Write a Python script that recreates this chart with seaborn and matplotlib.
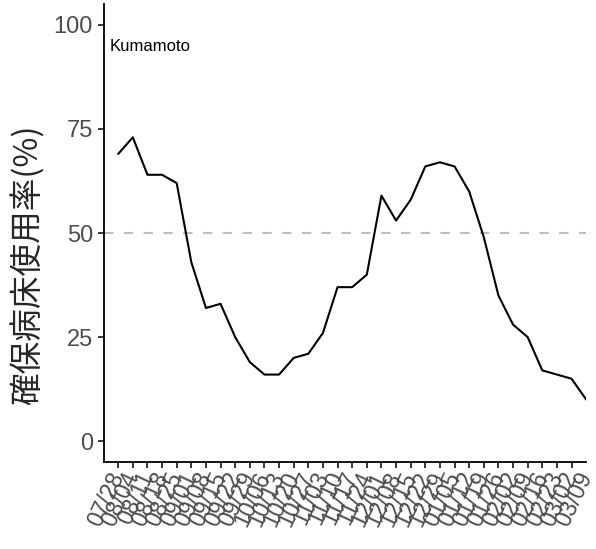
import numpy as np
import pandas as pd
import seaborn as sns
import matplotlib.pyplot as plt

# weekly dates and bed occupancy (%) for Kumamoto
dates = ["07/28", "08/04", "08/11", "08/18", "08/25", "09/01", "09/08", "09/15",
         "09/22", "09/29", "10/06", "10/13", "10/20", "10/27", "11/03", "11/10",
         "11/17", "11/24", "12/01", "12/08", "12/15", "12/22", "12/29", "01/05",
         "01/12", "01/19", "01/26", "02/02", "02/09", "02/16", "02/23", "03/02",
         "03/09"]
usage = [69, 73, 64, 64, 62, 43, 32, 33, 25, 19, 16, 16, 20, 21, 26, 37,
         37, 40, 59, 53, 58, 66, 67, 66, 60, 49, 35, 28, 25, 17, 16, 15, 10]
y_ticks = [0, 25, 50, 75, 100]
region = "Kumamoto"
ylabel = "確保病床使用率(%)"

df = pd.DataFrame({"week": np.arange(len(dates)), "usage": usage})

sns.set_style("ticks")
plt.rcParams["font.family"] = ["Liberation Sans", "Noto Sans CJK JP", "DejaVu Sans"]

fig = plt.figure(figsize=(5.96, 5.49), dpi=100)
ax = fig.add_axes([0.1745, 0.1585, 0.8095, 0.834])

ax.axhline(50, color="#BEBEBE", lw=1.5, ls=(0, (4.5, 5)), zorder=1)
sns.lineplot(data=df, x="week", y="usage", color="black", lw=1.5, ax=ax, zorder=2)

ax.set_ylim(-5, 105)
ax.set_xlim(-0.97, 32.02)
ax.set_yticks(y_ticks)
ax.set_yticklabels([str(v) for v in y_ticks], color="#4D4D4D", fontsize=17)
ax.set_xticks(df["week"])
ax.set_xticklabels(dates, rotation=65, ha="right", va="center",
                   rotation_mode="anchor", color="#4D4D4D", fontsize=16.5)
ax.xaxis.get_major_ticks()[-1].tick1line.set_visible(False)
ax.tick_params(axis="both", length=4.5, width=1.1, color="black", pad=3.5)

ax.set_xlabel("")
ax.set_ylabel(ylabel, fontsize=23.5, family=["Noto Sans CJK JP", "DejaVu Sans"])
ax.yaxis.set_label_coords(-0.122, 0.43)

for side in ["top", "right"]:
    ax.spines[side].set_visible(False)
for side in ["left", "bottom"]:
    ax.spines[side].set_linewidth(1.3)
    ax.spines[side].set_color("black")

ax.text(0.012, 0.898, region, transform=ax.transAxes, fontsize=12, color="black")

fig.savefig("out.png", dpi=100)
